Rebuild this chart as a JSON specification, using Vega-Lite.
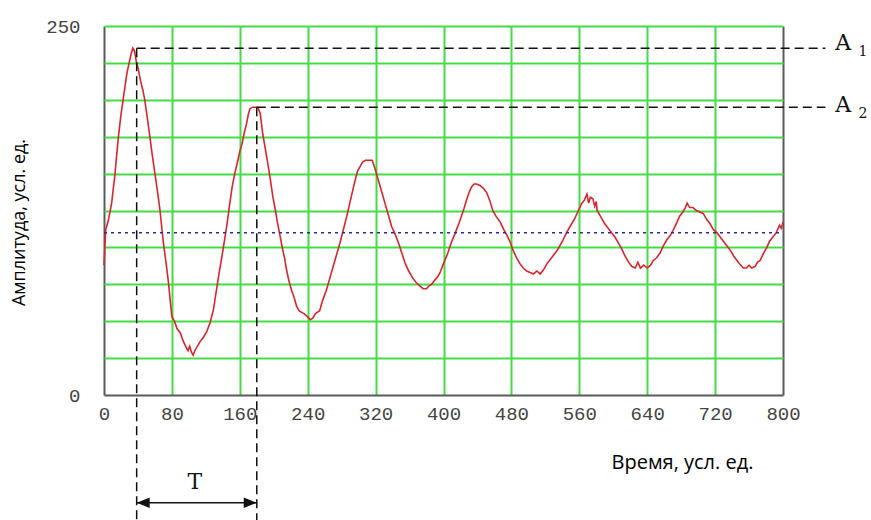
{
  "$schema": "https://vega.github.io/schema/vega-lite/v6.json",
  "width": 679,
  "height": 369,
  "autosize": {"type": "none"},
  "padding": {"left": 104, "top": 26, "right": 88, "bottom": 125},
  "background": "white",
  "config": {"view": {"stroke": null}},
  "datasets": {
    "signal": [
      {"t":0,"a":88},{"t":1,"a":100},{"t":2,"a":112},{"t":5,"a":118},{"t":7,"a":124},{"t":9,"a":130},{"t":11,"a":140},{"t":13,"a":150},{"t":15,"a":163},{"t":17,"a":175},{"t":20,"a":190},{"t":23,"a":202},{"t":25,"a":210},{"t":27,"a":218},{"t":30,"a":226},{"t":32,"a":231},{"t":34,"a":235},{"t":36,"a":233},{"t":38,"a":226},{"t":40,"a":222},{"t":43,"a":213},{"t":46,"a":206},{"t":48,"a":200},{"t":51,"a":188},{"t":54,"a":175},{"t":57,"a":162},{"t":60,"a":150},{"t":63,"a":138},{"t":66,"a":125},{"t":68,"a":114},{"t":70,"a":103},{"t":73,"a":90},{"t":76,"a":76},{"t":78,"a":64},{"t":80,"a":53},{"t":83,"a":50},{"t":86,"a":45},{"t":90,"a":42},{"t":93,"a":37},{"t":97,"a":32},{"t":99,"a":30},{"t":101,"a":33},{"t":103,"a":29},{"t":105,"a":27},{"t":107,"a":30},{"t":110,"a":33},{"t":113,"a":36},{"t":117,"a":39},{"t":121,"a":43},{"t":125,"a":49},{"t":129,"a":58},{"t":133,"a":73},{"t":136,"a":84},{"t":139,"a":94},{"t":142,"a":105},{"t":145,"a":116},{"t":148,"a":129},{"t":151,"a":141},{"t":154,"a":150},{"t":157,"a":157},{"t":160,"a":165},{"t":163,"a":171},{"t":165,"a":177},{"t":168,"a":184},{"t":170,"a":190},{"t":172,"a":194},{"t":175,"a":195},{"t":178,"a":195},{"t":181,"a":195},{"t":184,"a":191},{"t":187,"a":177},{"t":190,"a":167},{"t":193,"a":157},{"t":196,"a":146},{"t":199,"a":134},{"t":202,"a":125},{"t":204,"a":118},{"t":207,"a":109},{"t":210,"a":100},{"t":213,"a":92},{"t":215,"a":85},{"t":218,"a":77},{"t":221,"a":71},{"t":224,"a":66},{"t":227,"a":60},{"t":230,"a":57},{"t":233,"a":56},{"t":236,"a":55},{"t":240,"a":53},{"t":243,"a":51},{"t":246,"a":52},{"t":249,"a":55},{"t":251,"a":56},{"t":254,"a":57},{"t":257,"a":63},{"t":260,"a":68},{"t":262,"a":71},{"t":266,"a":79},{"t":270,"a":87},{"t":274,"a":95},{"t":278,"a":103},{"t":282,"a":112},{"t":286,"a":121},{"t":290,"a":131},{"t":294,"a":141},{"t":297,"a":148},{"t":299,"a":152},{"t":302,"a":155},{"t":305,"a":158},{"t":308,"a":159},{"t":312,"a":159},{"t":316,"a":159},{"t":319,"a":154},{"t":323,"a":146},{"t":327,"a":138},{"t":331,"a":130},{"t":335,"a":122},{"t":339,"a":114},{"t":343,"a":109},{"t":347,"a":103},{"t":351,"a":96},{"t":355,"a":89},{"t":359,"a":84},{"t":364,"a":79},{"t":368,"a":76},{"t":372,"a":74},{"t":376,"a":72},{"t":380,"a":72},{"t":383,"a":74},{"t":386,"a":75},{"t":390,"a":78},{"t":393,"a":80},{"t":396,"a":83},{"t":400,"a":89},{"t":405,"a":96},{"t":409,"a":103},{"t":414,"a":110},{"t":418,"a":116},{"t":421,"a":121},{"t":424,"a":126},{"t":427,"a":132},{"t":430,"a":137},{"t":433,"a":141},{"t":436,"a":143},{"t":439,"a":143},{"t":443,"a":142},{"t":447,"a":140},{"t":451,"a":137},{"t":455,"a":131},{"t":458,"a":125},{"t":462,"a":121},{"t":467,"a":117},{"t":471,"a":112},{"t":475,"a":108},{"t":479,"a":103},{"t":482,"a":98},{"t":486,"a":93},{"t":490,"a":89},{"t":494,"a":86},{"t":498,"a":84},{"t":502,"a":83},{"t":506,"a":82},{"t":510,"a":84},{"t":514,"a":82},{"t":518,"a":85},{"t":522,"a":89},{"t":526,"a":92},{"t":530,"a":95},{"t":534,"a":98},{"t":540,"a":104},{"t":545,"a":110},{"t":550,"a":115},{"t":555,"a":120},{"t":559,"a":125},{"t":563,"a":130},{"t":566,"a":132},{"t":569,"a":136},{"t":571,"a":130},{"t":573,"a":134},{"t":576,"a":133},{"t":578,"a":128},{"t":580,"a":131},{"t":581,"a":125},{"t":585,"a":121},{"t":590,"a":116},{"t":594,"a":113},{"t":598,"a":110},{"t":602,"a":107},{"t":606,"a":103},{"t":610,"a":99},{"t":614,"a":94},{"t":618,"a":90},{"t":622,"a":87},{"t":626,"a":86},{"t":629,"a":90},{"t":632,"a":86},{"t":636,"a":88},{"t":640,"a":86},{"t":644,"a":88},{"t":647,"a":91},{"t":651,"a":93},{"t":655,"a":96},{"t":659,"a":101},{"t":663,"a":105},{"t":667,"a":108},{"t":671,"a":112},{"t":675,"a":117},{"t":678,"a":121},{"t":682,"a":124},{"t":685,"a":127},{"t":687,"a":130},{"t":690,"a":127},{"t":694,"a":127},{"t":698,"a":125},{"t":702,"a":124},{"t":706,"a":123},{"t":710,"a":119},{"t":714,"a":116},{"t":718,"a":112},{"t":722,"a":110},{"t":726,"a":107},{"t":730,"a":104},{"t":734,"a":101},{"t":738,"a":98},{"t":742,"a":94},{"t":746,"a":91},{"t":750,"a":88},{"t":753,"a":86},{"t":757,"a":86},{"t":760,"a":88},{"t":763,"a":86},{"t":767,"a":87},{"t":770,"a":90},{"t":773,"a":91},{"t":777,"a":96},{"t":781,"a":100},{"t":784,"a":104},{"t":788,"a":107},{"t":792,"a":110},{"t":796,"a":115},{"t":798,"a":113},{"t":800,"a":117}
    ],
    "dashed": [
      {"x": 38.5, "x2": 850, "y": 235, "y2": 235},
      {"x": 180, "x2": 850, "y": 195, "y2": 195},
      {"x": 38.5, "x2": 38.5, "y": 235, "y2": -85},
      {"x": 180, "x2": 180, "y": 195, "y2": -85}
    ],
    "mean": [{"x": 0, "x2": 800, "y": 110}],
    "shaft": [{"x": 38.5, "x2": 180, "y": -73}],
    "heads": [
      {"x": 46.2, "y": -73, "dir": "left"},
      {"x": 172.3, "y": -73, "dir": "right"}
    ],
    "bigtext": [
      {"x": 107, "y": -63.5, "text": "T", "align": "center"},
      {"x": 871, "y": 233.5, "text": "A", "align": "left"},
      {"x": 871, "y": 192, "text": "A", "align": "left"}
    ],
    "subtext": [
      {"x": 889, "y": 229.5, "text": "1"},
      {"x": 889, "y": 188, "text": "2"}
    ]
  },
  "encoding": {
    "x": {
      "type": "quantitative",
      "scale": {"domain": [0, 800], "nice": false, "zero": false},
      "axis": {
        "values": [0, 80, 160, 240, 320, 400, 480, 560, 640, 720, 800],
        "domain": false, "ticks": false, "tickSize": 0,
        "grid": true,
        "gridColor": {"condition": {"test": "datum.value === 0 || datum.value === 800", "value": "#5a5a5a"}, "value": "#44dc44"},
        "gridWidth": 2, "gridOpacity": 1,
        "labelFont": "Liberation Mono", "labelFontSize": 19, "labelColor": "#444444",
        "labelDx": 5, "labelPadding": 18, "labelBaseline": "middle",
        "labelFlush": false, "labelOverlap": false,
        "title": "Время, усл. ед.",
        "titleFont": "Open Sans", "titleFontSize": 20, "titleFontWeight": "normal", "titleColor": "#000000",
        "titleX": 578, "titleY": 67, "titleBaseline": "middle", "titleAlign": "center"
      }
    },
    "y": {
      "type": "quantitative",
      "scale": {"domain": [0, 250], "nice": false, "zero": false},
      "axis": {
        "values": [0, 25, 50, 75, 100, 125, 150, 175, 200, 225, 250],
        "domain": false, "ticks": false, "tickSize": 0,
        "grid": true,
        "gridColor": {"condition": {"test": "datum.value === 0", "value": "#5a5a5a"}, "value": "#44dc44"},
        "gridWidth": 2, "gridOpacity": 1,
        "labelExpr": "datum.value === 0 || datum.value === 250 ? datum.label : ''",
        "labelFont": "Liberation Mono", "labelFontSize": 19, "labelColor": "#444444",
        "labelPadding": 24, "labelDy": -4, "labelBaseline": "middle", "labelAlign": "right",
        "labelFlush": false, "labelOverlap": false,
        "title": "Амплитуда, усл. ед.",
        "titleFont": "Open Sans", "titleFontSize": 18, "titleFontWeight": "normal", "titleColor": "#000000",
        "titleX": -85, "titleY": 196, "titleAngle": -90, "titleBaseline": "middle", "titleAlign": "center"
      }
    }
  },
  "layer": [
    {
      "data": {"name": "signal"},
      "mark": {"type": "line", "color": "#d8262b", "strokeWidth": 1.6, "clip": false},
      "encoding": {
        "x": {"field": "t"},
        "y": {"field": "a"}
      }
    },
    {
      "data": {"name": "mean"},
      "mark": {"type": "rule", "color": "#2b2b9a", "strokeWidth": 1.5, "strokeDash": [3, 4]},
      "encoding": {
        "x": {"field": "x"},
        "x2": {"field": "x2"},
        "y": {"field": "y"}
      }
    },
    {
      "data": {"name": "dashed"},
      "mark": {"type": "rule", "color": "#111111", "strokeWidth": 1.5, "strokeDash": [9, 5], "clip": false},
      "encoding": {
        "x": {"field": "x"},
        "x2": {"field": "x2"},
        "y": {"field": "y"},
        "y2": {"field": "y2"}
      }
    },
    {
      "data": {"name": "shaft"},
      "mark": {"type": "rule", "color": "#111111", "strokeWidth": 1.5, "clip": false},
      "encoding": {
        "x": {"field": "x"},
        "x2": {"field": "x2"},
        "y": {"field": "y"}
      }
    },
    {
      "data": {"name": "heads"},
      "mark": {"type": "point", "filled": true, "color": "#111111", "opacity": 1, "size": 169, "clip": false},
      "encoding": {
        "x": {"field": "x"},
        "y": {"field": "y"},
        "shape": {
          "field": "dir", "type": "nominal", "legend": null,
          "scale": {"domain": ["left", "right"], "range": ["M-1,0L1,-0.8L1,0.8Z", "M1,0L-1,-0.8L-1,0.8Z"]}
        }
      }
    },
    {
      "data": {"name": "bigtext"},
      "mark": {"type": "text", "font": "DejaVu Serif", "fontSize": 22, "color": "#111111", "baseline": "alphabetic", "clip": false},
      "encoding": {
        "x": {"field": "x"},
        "y": {"field": "y"},
        "text": {"field": "text"},
        "align": {"field": "align"}
      }
    },
    {
      "data": {"name": "subtext"},
      "mark": {"type": "text", "font": "DejaVu Serif", "fontSize": 14, "color": "#111111", "baseline": "alphabetic", "align": "left", "clip": false},
      "encoding": {
        "x": {"field": "x"},
        "y": {"field": "y"},
        "text": {"field": "text"}
      }
    }
  ]
}
